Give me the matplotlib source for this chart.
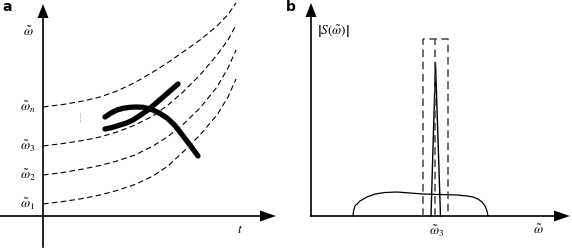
import matplotlib
matplotlib.use("Agg")
import matplotlib.pyplot as plt
import numpy as np

plt.rcParams['mathtext.fontset'] = 'stix'
plt.rcParams['font.family'] = ['Liberation Serif', 'DejaVu Sans']

# ---- panel a (pixel coordinates, y downward) ----
a_axis_x = 43
a_axis_y = 216
a_yaxis_range = [247, 16]
a_xaxis_range = [0, 260]
a_level_labels = [r'$\tilde{\omega}_n$', r'$\tilde{\omega}_3$', r'$\tilde{\omega}_2$', r'$\tilde{\omega}_1$']
a_level_y = [107, 146, 175, 204]

curve_x = [43, 63, 83, 100, 117, 135, 153, 168, 183, 200, 217, 228, 236]
curve_n = [107, 104.5, 101, 97, 91, 82.5, 72, 62.5, 52, 40, 26, 14.5, 3]
curve_3 = [146, 143.5, 140.5, 137, 132, 125, 116, 105, 92, 75, 55, 40, 25]
curve_2 = [175, 172.5, 169, 165.5, 161, 155, 146, 136.5, 124.5, 108, 87, 68, 50]
curve_1 = [204, 201.5, 198.5, 195, 190.5, 184.5, 176, 166, 152, 135, 115, 97, 79]

track_a_x = [105, 112, 120, 127, 133, 140, 148, 155, 162, 170, 178]
track_a_y = [129, 127.5, 125, 122.8, 120, 115.5, 110, 104, 98, 91, 84]
track_b_x = [105, 111, 117, 123, 130, 136, 143, 148, 153, 160, 167, 174, 180, 185, 190, 194, 198]
track_b_y = [117, 113, 110, 108.3, 107.3, 107, 107.3, 108.5, 110, 113.5, 118, 124.5, 132, 138.5, 145, 150.5, 156]

# ---- panel b ----
b_axis_x = 311
b_axis_y = 216
b_xaxis_range = [311, 556]
b_yaxis_range = [216, 16]
broad_x = [353, 353.5, 355, 360, 367, 375, 385, 397, 410, 423, 440, 457, 467, 473, 478, 482, 485, 487, 488]
broad_y = [216, 211, 206, 201, 197, 194, 192.5, 192, 193, 194, 194.5, 195, 196, 197, 199, 202, 206, 211, 216]
peak_x = [431, 435.5, 440.5]
peak_y = [216, 63, 216]
box_x = [423, 423, 448, 448]
box_y = [216, 39, 39, 216]
mid_x = [435, 435]
mid_y = [216, 39]

W, H = 572, 248
fig = plt.figure(figsize=(W / 100, H / 100), dpi=100)
ax = fig.add_axes([0, 0, 1, 1])
ax.set_xlim(0, W)
ax.set_ylim(H, 0)
ax.axis('off')

axis_lw = 1.2

def head_up(x, tip_y, L=14, w=5.5):
    ax.fill([x - w, x, x + w], [tip_y + L, tip_y, tip_y + L], color='black', lw=0)

def head_right(tip_x, y, L=16, w=5.5):
    ax.fill([tip_x - L, tip_x, tip_x - L], [y - w, y, y + w], color='black', lw=0)

# panel a axes
ax.plot([a_axis_x, a_axis_x], a_yaxis_range, color='black', lw=axis_lw)
head_up(a_axis_x, 4)
ax.plot(a_xaxis_range, [a_axis_y, a_axis_y], color='black', lw=axis_lw)
head_right(276, a_axis_y)

for cy in [curve_n, curve_3, curve_2, curve_1]:
    ax.plot(curve_x, cy, color='black', lw=0.8, dashes=(5, 3))

ax.plot(track_a_x, track_a_y, color='black', lw=3.8, solid_capstyle='round', solid_joinstyle='round')
ax.plot(track_b_x, track_b_y, color='black', lw=3.8, solid_capstyle='round', solid_joinstyle='round')
ax.plot([80, 80], [113, 122], color='#777777', lw=0.6, dashes=(1, 1.5))

for lab, yy in zip(a_level_labels, a_level_y):
    ax.text(28, yy, lab, fontsize=9.5, ha='center', va='center')
ax.text(28, 32, r'$\tilde{\omega}$', fontsize=9.5, ha='center', va='center')
ax.text(240, 230, r'$t$', fontsize=9.5, ha='center', va='center')
ax.text(2, 7, 'a', fontsize=10, fontweight='bold', family='DejaVu Sans', ha='left', va='center')

# panel b axes
ax.plot([b_axis_x, b_axis_x], b_yaxis_range, color='black', lw=axis_lw)
head_up(b_axis_x, 3)
ax.plot(b_xaxis_range, [b_axis_y, b_axis_y], color='black', lw=axis_lw)
head_right(570, b_axis_y)

ax.plot(broad_x, broad_y, color='black', lw=0.9)
ax.plot(peak_x, peak_y, color='black', lw=1.0)
ax.plot(box_x, box_y, color='#444444', lw=1.1, dashes=(5, 3))
ax.plot(mid_x, mid_y, color='#444444', lw=1.1, dashes=(5, 3))

ax.text(333, 32, r'$\left|S(\tilde{\omega})\right|$', fontsize=9.5, ha='center', va='center')
ax.text(437, 231, r'$\tilde{\omega}_3$', fontsize=9.5, ha='center', va='center')
ax.text(538, 230, r'$\tilde{\omega}$', fontsize=9.5, ha='center', va='center')
ax.text(286, 7, 'b', fontsize=10, fontweight='bold', family='DejaVu Sans', ha='left', va='center')

fig.savefig('out.png', dpi=100)
